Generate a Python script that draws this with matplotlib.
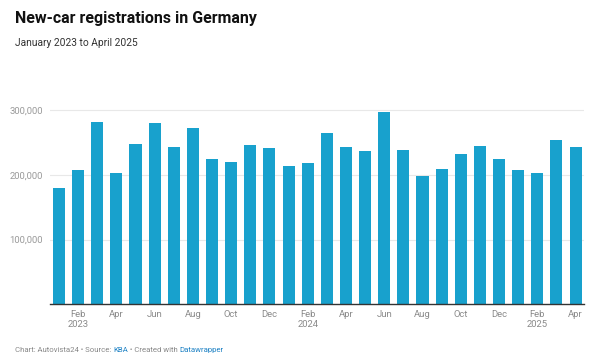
"""New-car registrations in Germany, monthly bar chart (Jan 2023 - Apr 2025)."""

import matplotlib

matplotlib.use("Agg")

import matplotlib.pyplot as plt
import numpy as np

MONTHS = [
    "Jan", "Feb", "Mar", "Apr", "May", "Jun", "Jul", "Aug", "Sep", "Oct", "Nov", "Dec",
    "Jan", "Feb", "Mar", "Apr", "May", "Jun", "Jul", "Aug", "Sep", "Oct", "Nov", "Dec",
    "Jan", "Feb", "Mar", "Apr",
]
YEARS = [2023] * 12 + [2024] * 12 + [2025] * 4
REGISTRATIONS = [
    179247, 207008, 281361, 202986, 247253, 279700, 242997, 271636, 223895, 218959, 245323, 241672,
    213254, 217388, 264000, 242700, 236425, 297000, 238263, 197322, 208848, 231992, 244000, 225000,
    207640, 203434, 253497, 242728,
]
Y_TICKS = [100000, 200000, 300000]

TITLE = "New-car registrations in Germany"
SUBTITLE = "January 2023 to April 2025"
BAR_COLOR = "#18a1cd"

plt.rcParams["font.family"] = ["Roboto", "DejaVu Sans"]


def _tick_labels():
    labels = []
    for i, (m, y) in enumerate(zip(MONTHS, YEARS)):
        if i % 2 == 1:
            labels.append(f"{m}\n{y}" if m == "Feb" else m)
    return labels


def main():
    fig = plt.figure(figsize=(6.05, 3.59), dpi=100)
    ax = fig.add_axes([0.0826, 0.1524, 0.8827, 0.5593])

    x = np.arange(len(REGISTRATIONS))
    ax.bar(x, REGISTRATIONS, width=0.63, color=BAR_COLOR, zorder=2)

    ax.set_xlim(-0.47, len(x) - 0.56)
    ax.set_ylim(0, 310000)

    ax.set_yticks(Y_TICKS)
    ax.set_yticklabels([f"{v:,}" for v in Y_TICKS])
    ax.yaxis.grid(True, color="#e8e8e8", linewidth=0.8, zorder=0)
    ax.tick_params(axis="y", length=0, pad=5, labelsize=6.8, labelcolor="#9a9a9a")

    ax.set_xticks(x[1::2])
    ax.set_xticklabels(_tick_labels())
    ax.tick_params(axis="x", length=0, pad=4, labelsize=6.8, labelcolor="#8a8a8a")

    for side in ("top", "right", "left"):
        ax.spines[side].set_visible(False)
    ax.spines["bottom"].set_color("#333333")
    ax.spines["bottom"].set_linewidth(1.0)
    ax.spines["bottom"].set_zorder(3)

    fig.text(0.025, 0.948, TITLE, fontsize=11.5, fontweight="bold", color="#111111", va="center")
    fig.text(0.025, 0.88, SUBTITLE, fontsize=7.4, color="#333333", va="center")

    foot_y = 0.024
    parts = [
        ("Chart: Autovista24 \u2022 Source: ", "#888888"),
        ("KBA", "#1d81c4"),
        (" \u2022 Created with ", "#888888"),
        ("Datawrapper", "#1d81c4"),
    ]
    fig.canvas.draw()
    renderer = fig.canvas.get_renderer()
    xpos = 0.025
    for text, color in parts:
        t = fig.text(xpos, foot_y, text, fontsize=5.6, color=color, va="center")
        bb = t.get_window_extent(renderer=renderer)
        xpos += bb.width / fig.bbox.width

    fig.savefig("out.png", dpi=100)
    plt.close(fig)


if __name__ == "__main__":
    main()
